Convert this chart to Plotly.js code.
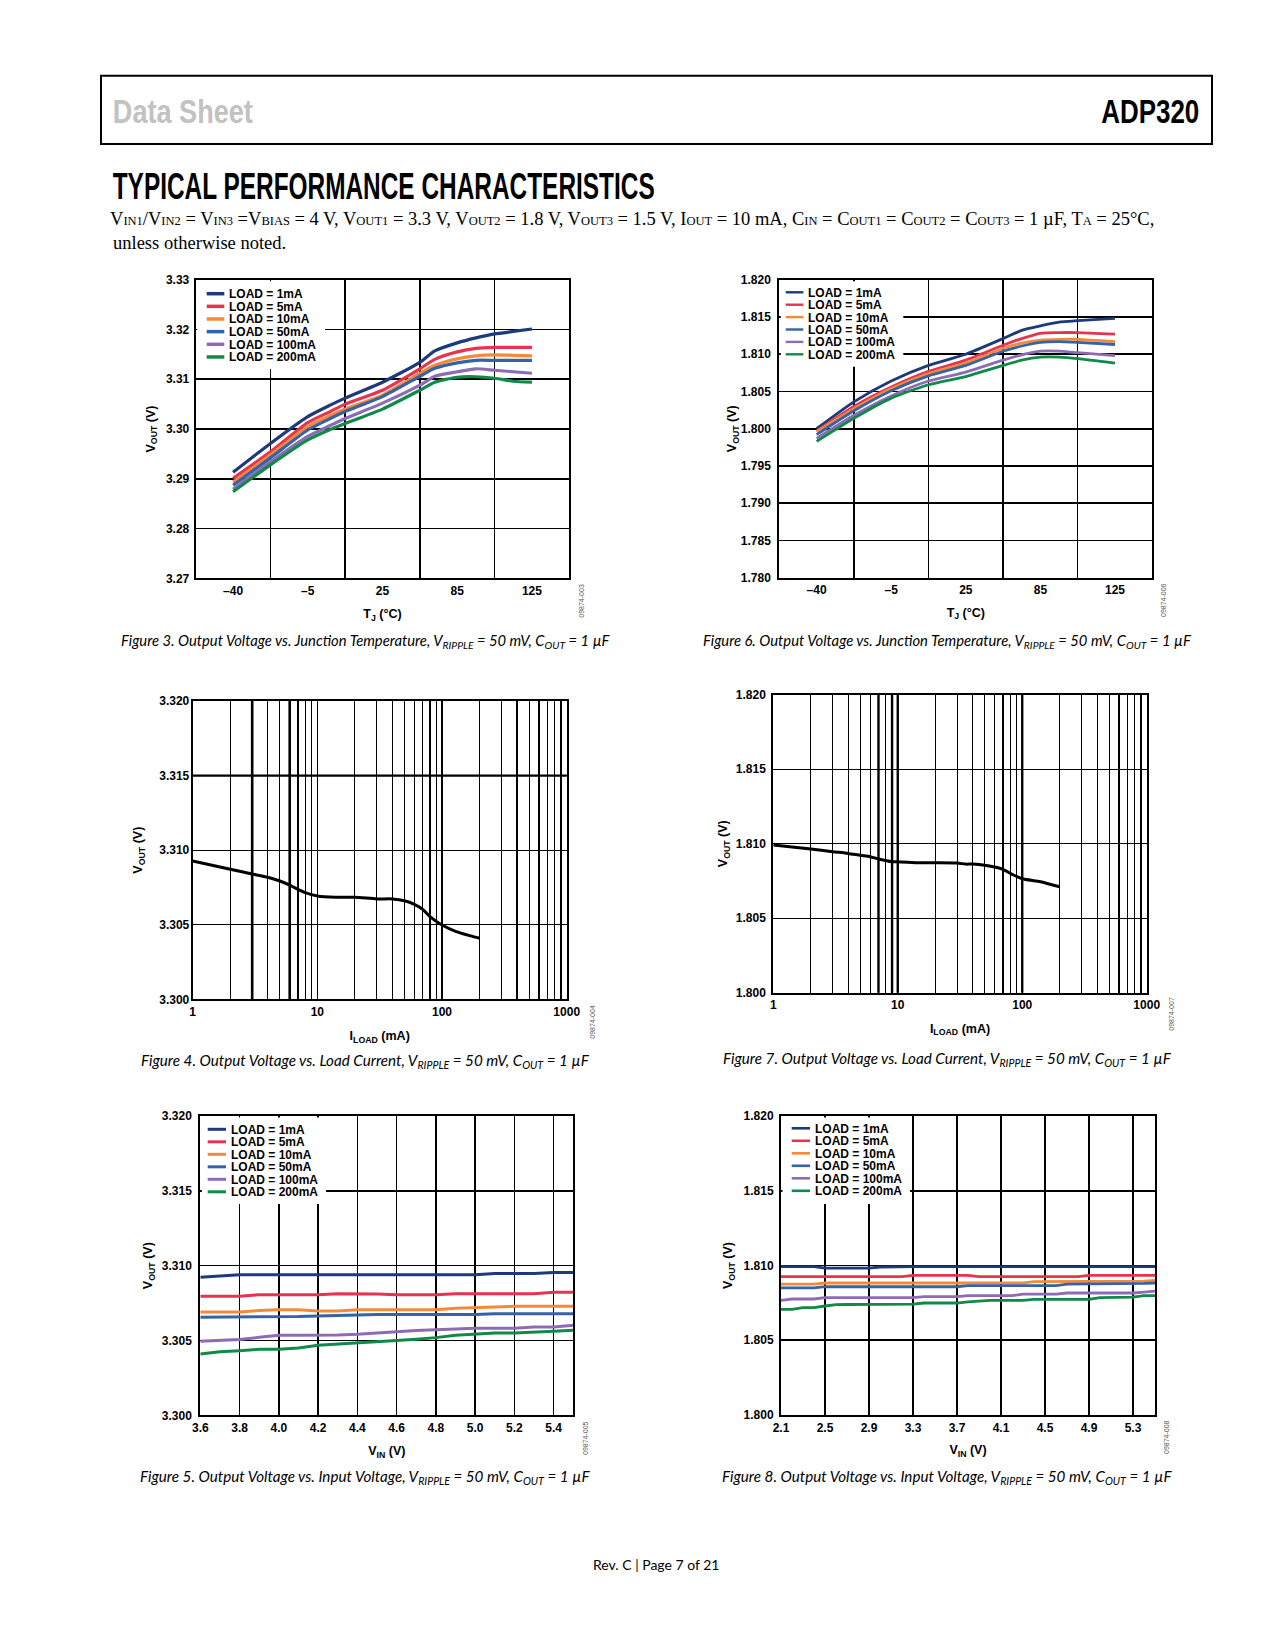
<!DOCTYPE html>
<html><head><meta charset="utf-8">
<script src="https://cdn.plot.ly/plotly-3.0.1.min.js"></script>
<style>html,body{margin:0;padding:0;background:#fff}#page{width:1275px;height:1650px}</style>
</head><body><div id="page"></div>
<script>
// ---------------- DATA ----------------
const loadNames = ['LOAD = 1mA','LOAD = 5mA','LOAD = 10mA','LOAD = 50mA','LOAD = 100mA','LOAD = 200mA'];
const loadColors = ['#1d3a7c','#e6334f','#f5893a','#3562a8','#8e6bb6','#0f8a48'];

const tjTickPos = [0,1,2,3,4];
const tjTickLabels = ['–40','–5','25','85','125'];
const tjGridPos = [0.5,1.5,2.5,3.5];

// Figure 3 (VOUT1 = 3.3 V) vs TJ (positions on the TJ scale)
const fig3TjPos   = [0, 0.5, 1, 1.3, 1.5, 2, 2.5, 2.7, 3, 3.25, 3.5, 3.75, 4];
const fig3V1mA    = [3.2913,3.2971,3.3025,3.3048,3.3062,3.3094,3.3134,3.3157,3.3173,3.3183,3.3191,3.3196,3.3201];
const fig3V5mA    = [3.2901,3.2954,3.3013,3.3035,3.3050,3.3078,3.3121,3.3140,3.3155,3.3162,3.3164,3.3164,3.3164];
const fig3V10mA   = [3.2893,3.2948,3.3005,3.3027,3.3040,3.3068,3.3112,3.3128,3.3141,3.3147,3.3149,3.3148,3.3147];
const fig3V50mA   = [3.2887,3.2942,3.2998,3.3021,3.3035,3.3065,3.3106,3.3122,3.3133,3.3138,3.3138,3.3138,3.3138];
const fig3V100mA  = [3.2879,3.2934,3.2985,3.3007,3.3021,3.3052,3.3088,3.3106,3.3115,3.3121,3.3118,3.3115,3.3112];
const fig3V200mA  = [3.2874,3.2928,3.2978,3.2999,3.3011,3.3040,3.3078,3.3094,3.3104,3.3105,3.3102,3.3096,3.3094];

// Figure 6 (VOUT2 = 1.8 V) vs TJ
const fig6TjPos   = [0, 0.5, 1, 1.5, 2, 2.5, 2.75, 3, 3.25, 3.5, 4];
const fig6V1mA    = [1.8000,1.8036,1.8064,1.8085,1.8100,1.8121,1.8132,1.8138,1.8143,1.8145,1.8148];
const fig6V5mA    = [1.7997,1.8030,1.8056,1.8077,1.8092,1.8112,1.8121,1.8128,1.8129,1.8129,1.8127];
const fig6V10mA   = [1.7996,1.8027,1.8054,1.8074,1.8088,1.8108,1.8115,1.8119,1.8120,1.8120,1.8117];
const fig6V50mA   = [1.7992,1.8024,1.8051,1.8071,1.8085,1.8104,1.8111,1.8116,1.8117,1.8116,1.8113];
const fig6V100mA  = [1.7987,1.8018,1.8044,1.8064,1.8076,1.8092,1.8099,1.8104,1.8104,1.8102,1.8098];
const fig6V200mA  = [1.7983,1.8014,1.8041,1.8059,1.8070,1.8085,1.8092,1.8096,1.8096,1.8094,1.8088];

// Figure 4 (3.3 V) vs ILOAD
const fig4ILoad = [1,2,3,4,5,6,7,8,10,14,20,30,40,50,60,70,80,100,130,170,200];
const fig4Vout  = [3.30927,3.30872,3.30840,3.30818,3.30793,3.30766,3.30737,3.30715,3.30693,3.30684,3.30684,3.30673,3.30673,3.30661,3.30637,3.30603,3.30554,3.30498,3.30454,3.30425,3.30409];

// Figure 7 (1.8 V) vs ILOAD
const fig7ILoad = [1,2,3,4,5,6,7,9,10,15,20,30,35,40,50,70,85,100,140,200];
const fig7Vout  = [1.80991,1.80964,1.80946,1.80935,1.80922,1.80913,1.80897,1.80879,1.80879,1.80872,1.80872,1.80870,1.80863,1.80863,1.80855,1.80828,1.80790,1.80765,1.80745,1.80711];

// Figure 5 (3.3 V) vs VIN
const fig5Vin     = [3.6,3.7,3.8,3.9,4.0,4.1,4.2,4.3,4.4,4.5,4.6,4.7,4.8,4.9,5.0,5.1,5.2,5.3,5.4,5.5];
const fig5V1mA    = [3.30922,3.30931,3.30940,3.30940,3.30940,3.30940,3.30940,3.30940,3.30940,3.30940,3.30940,3.30940,3.30940,3.30940,3.30940,3.30947,3.30947,3.30947,3.30955,3.30955];
const fig5V5mA    = [3.30795,3.30795,3.30795,3.30806,3.30806,3.30806,3.30806,3.30813,3.30813,3.30810,3.30806,3.30806,3.30806,3.30813,3.30813,3.30813,3.30813,3.30813,3.30822,3.30822];
const fig5V10mA   = [3.30690,3.30690,3.30690,3.30700,3.30706,3.30706,3.30697,3.30697,3.30706,3.30706,3.30706,3.30706,3.30706,3.30715,3.30720,3.30728,3.30728,3.30728,3.30728,3.30728];
const fig5V50mA   = [3.30655,3.30655,3.30655,3.30655,3.30655,3.30660,3.30664,3.30668,3.30673,3.30673,3.30673,3.30673,3.30673,3.30673,3.30673,3.30679,3.30679,3.30679,3.30679,3.30679];
const fig5V100mA  = [3.30494,3.30500,3.30506,3.30521,3.30535,3.30535,3.30535,3.30537,3.30541,3.30550,3.30559,3.30566,3.30572,3.30577,3.30581,3.30581,3.30581,3.30590,3.30590,3.30601];
const fig5V200mA  = [3.30410,3.30425,3.30432,3.30441,3.30441,3.30450,3.30468,3.30475,3.30481,3.30490,3.30499,3.30509,3.30519,3.30535,3.30541,3.30550,3.30550,3.30558,3.30561,3.30568];

// Figure 8 (1.8 V) vs VIN
const fig8Vin     = [2.1,2.2,2.3,2.4,2.5,2.6,2.7,2.8,2.9,3.0,3.1,3.2,3.3,3.4,3.5,3.6,3.7,3.8,3.9,4.0,4.1,4.2,4.3,4.4,4.5,4.6,4.7,4.8,4.9,5.0,5.1,5.2,5.3,5.4,5.5];
const fig8V1mA    = [1.80992,1.80992,1.80992,1.80992,1.80983,1.80983,1.80983,1.80983,1.80983,1.80990,1.80992,1.80992,1.80992,1.80992,1.80992,1.80992,1.80992,1.80992,1.80992,1.80992,1.80992,1.80992,1.80992,1.80992,1.80992,1.80992,1.80992,1.80992,1.80992,1.80992,1.80992,1.80992,1.80992,1.80992,1.80992];
const fig8V5mA    = [1.80925,1.80925,1.80925,1.80925,1.80925,1.80925,1.80925,1.80925,1.80925,1.80925,1.80925,1.80925,1.80934,1.80934,1.80934,1.80934,1.80934,1.80934,1.80925,1.80925,1.80925,1.80925,1.80925,1.80925,1.80925,1.80925,1.80925,1.80925,1.80934,1.80934,1.80934,1.80934,1.80934,1.80934,1.80934];
const fig8V10mA   = [1.80876,1.80876,1.80876,1.80876,1.80883,1.80883,1.80883,1.80883,1.80883,1.80883,1.80883,1.80883,1.80883,1.80883,1.80883,1.80883,1.80883,1.80883,1.80883,1.80883,1.80883,1.80883,1.80883,1.80892,1.80892,1.80892,1.80892,1.80892,1.80892,1.80892,1.80892,1.80892,1.80892,1.80896,1.80901];
const fig8V50mA   = [1.80850,1.80850,1.80850,1.80850,1.80858,1.80858,1.80858,1.80858,1.80858,1.80858,1.80858,1.80858,1.80858,1.80858,1.80858,1.80858,1.80858,1.80865,1.80865,1.80865,1.80865,1.80865,1.80865,1.80865,1.80865,1.80865,1.80876,1.80876,1.80876,1.80876,1.80876,1.80876,1.80876,1.80880,1.80883];
const fig8V100mA  = [1.80767,1.80776,1.80776,1.80776,1.80785,1.80785,1.80785,1.80785,1.80785,1.80785,1.80785,1.80785,1.80785,1.80792,1.80792,1.80792,1.80792,1.80798,1.80798,1.80798,1.80798,1.80798,1.80809,1.80809,1.80809,1.80809,1.80816,1.80816,1.80816,1.80816,1.80816,1.80816,1.80816,1.80822,1.80829];
const fig8V200mA  = [1.80707,1.80707,1.80718,1.80718,1.80729,1.80738,1.80739,1.80740,1.80740,1.80741,1.80742,1.80742,1.80742,1.80749,1.80749,1.80749,1.80749,1.80756,1.80763,1.80767,1.80767,1.80767,1.80767,1.80774,1.80774,1.80774,1.80774,1.80774,1.80774,1.80785,1.80787,1.80788,1.80789,1.80798,1.80798];

const logTickVals = [1,10,100,1000];
const logTickText = ['1','10','100','1000'];
const logMinorVals = [2,3,4,5,6,7,8,9,20,30,40,50,60,70,80,90,200,300,400,500,600,700,800,900];

// ---------------- LAYOUT HELPERS ----------------
const W = 1275, H = 1650;
const px = x => x / W;
const py = y => 1 - y / H;
const dX = (a, b) => [a / W, b / W];
const dY = (top, bottom) => [1 - bottom / H, 1 - top / H];

const boldFont = {family: 'Liberation Sans, Arial, sans-serif', size: 12, color: '#000', weight: 'bold'};

function frame(extra) {
  return Object.assign({
    showline: true, mirror: true, linecolor: '#000', linewidth: 2,
    showgrid: true, gridcolor: '#000', gridwidth: 1.6,
    zeroline: false, ticks: '', tickfont: boldFont, fixedrange: true
  }, extra);
}
function atitle(t, standoff) { return {text: t, font: Object.assign({}, boldFont, {size: 12.5}), standoff: standoff}; }

const voutTitle = 'V<sub>OUT</sub> (V)';

const traces = [];
function addSet(xs, ys, xa, ya, width, shape) {
  ys.forEach((y, i) => traces.push({
    x: xs, y: y, xaxis: xa, yaxis: ya, type: 'scatter', mode: 'lines',
    name: loadNames[i], showlegend: false, hoverinfo: 'skip',
    line: {color: loadColors[i], width: width, shape: shape, smoothing: 0.6}
  }));
}
addSet(fig3TjPos, [fig3V1mA, fig3V5mA, fig3V10mA, fig3V50mA, fig3V100mA, fig3V200mA], 'x', 'y', 3.2, 'spline');
addSet(fig6TjPos, [fig6V1mA, fig6V5mA, fig6V10mA, fig6V50mA, fig6V100mA, fig6V200mA], 'x2', 'y2', 2.8, 'spline');
traces.push({x: fig4ILoad, y: fig4Vout, xaxis: 'x3', yaxis: 'y3', mode: 'lines', showlegend: false, hoverinfo: 'skip',
  line: {color: '#000', width: 3, shape: 'spline', smoothing: 0.6}});
traces.push({x: fig7ILoad, y: fig7Vout, xaxis: 'x4', yaxis: 'y4', mode: 'lines', showlegend: false, hoverinfo: 'skip',
  line: {color: '#000', width: 3, shape: 'spline', smoothing: 0.6}});
addSet(fig5Vin, [fig5V1mA, fig5V5mA, fig5V10mA, fig5V50mA, fig5V100mA, fig5V200mA], 'x5', 'y5', 3, 'linear');
addSet(fig8Vin, [fig8V1mA, fig8V5mA, fig8V10mA, fig8V50mA, fig8V100mA, fig8V200mA], 'x6', 'y6', 2.8, 'linear');

const tjAxis = (dom, anchor, lblOff, titleOff) => frame({
  domain: dom, anchor: anchor, range: [-0.5, 4.5], tickmode: 'array', tickvals: tjTickPos, ticktext: tjTickLabels,
  showgrid: false, ticklabelstandoff: lblOff,
  minor: {tickmode: 'array', tickvals: tjGridPos, showgrid: true, gridcolor: '#000', gridwidth: 1.6, ticks: ''},
  title: atitle('T<sub>J</sub> (°C)', titleOff)
});
const logAxis = (dom, anchor, lblOff, titleOff) => frame({
  domain: dom, anchor: anchor, type: 'log', range: [0, 3], tickmode: 'array', tickvals: logTickVals, ticktext: logTickText,
  gridwidth: 1.2, ticklabelstandoff: lblOff,
  minor: {tickmode: 'array', tickvals: logMinorVals, showgrid: true, gridcolor: '#000', gridwidth: 1.2, ticks: ''},
  title: atitle('I<sub>LOAD</sub> (mA)', titleOff)
});

const layout = {
  width: W, height: H, margin: {l: 0, r: 0, t: 0, b: 0},
  paper_bgcolor: '#fff', plot_bgcolor: '#fff', showlegend: false,
  font: {family: 'Liberation Sans, Arial, sans-serif', color: '#000'},
  xaxis: tjAxis(dX(195.7, 569.3), 'y', 0, 13),
  yaxis: frame({domain: dY(279.7, 578.3), anchor: 'x', range: [3.27, 3.33], dtick: 0.01, tick0: 3.27, tickformat: '.2f', ticklabelstandoff: 2, title: atitle(voutTitle, 8)}),
  xaxis2: tjAxis(dX(779.3, 1152.3), 'y2', 0, 12),
  yaxis2: frame({domain: dY(279.7, 577.7), anchor: 'x2', range: [1.78, 1.82], dtick: 0.005, tick0: 1.78, tickformat: '.3f', ticklabelstandoff: 4, title: atitle(voutTitle, 1)}),
  xaxis3: logAxis(dX(192.7, 566.7), 'y3', 0, 14),
  yaxis3: frame({domain: dY(701, 999.3), anchor: 'x3', range: [3.3, 3.32], dtick: 0.005, tick0: 3.3, tickformat: '.3f', ticklabelstandoff: -1, gridwidth: 1.3, title: atitle(voutTitle, 14)}),
  xaxis4: logAxis(dX(773.3, 1146.7), 'y4', 0, 13),
  yaxis4: frame({domain: dY(694.7, 992.7), anchor: 'x4', range: [1.8, 1.82], dtick: 0.005, tick0: 1.8, tickformat: '.3f', ticklabelstandoff: 3, gridwidth: 1.3, title: atitle(voutTitle, 5)}),
  xaxis5: frame({domain: dX(200.3, 573.3), anchor: 'y5', range: [3.6, 5.5], tick0: 3.6, dtick: 0.2, tickformat: '.1f', ticklabelstandoff: 0, title: atitle('V<sub>IN</sub> (V)', 13)}),
  yaxis5: frame({domain: dY(1116, 1415.3), anchor: 'x5', range: [3.3, 3.32], dtick: 0.005, tick0: 3.3, tickformat: '.3f', ticklabelstandoff: 4, title: atitle(voutTitle, 6)}),
  xaxis6: frame({domain: dX(781, 1155), anchor: 'y6', range: [2.1, 5.5], tick0: 2.1, dtick: 0.4, tickformat: '.1f', ticklabelstandoff: 1, title: atitle('V<sub>IN</sub> (V)', 11)}),
  yaxis6: frame({domain: dY(1116, 1415), anchor: 'x6', range: [1.8, 1.82], dtick: 0.005, tick0: 1.8, tickformat: '.3f', ticklabelstandoff: 3, title: atitle(voutTitle, 8)}),
  shapes: [], annotations: []
};

// heavier grid strokes as seen in the log-scale plots
const heavyV = (xa, ya, v, w) => layout.shapes.push({type: 'line', xref: xa + ' domain', yref: ya + ' domain',
  x0: Math.log10(v) / 3, x1: Math.log10(v) / 3, y0: 0, y1: 1, line: {color: '#000', width: w}});
[3, 6].forEach(v => heavyV('x3', 'y3', v, 2.6));
layout.shapes.push({type: 'line', xref: 'x3 domain', yref: 'y3 domain', x0: 0, x1: 1, y0: 0.75, y1: 0.75, line: {color: '#000', width: 2.4}});
[7, 9, 10, 100].forEach(v => heavyV('x4', 'y4', v, 2.4));

// header box
layout.shapes.push({type: 'rect', xref: 'paper', yref: 'paper', x0: px(101), x1: px(1212), y0: py(75.7), y1: py(144), line: {color: '#000', width: 2}});

function ann(x, y, text, font, extra) {
  layout.annotations.push(Object.assign({xref: 'paper', yref: 'paper', x: px(x), y: py(y), text: text, showarrow: false,
    font: font, xanchor: 'left', yanchor: 'middle', borderpad: 0, borderwidth: 0}, extra || {}));
}
const headFont = 'Liberation Sans, Arial, sans-serif';
// condensed texts: plain text -> target width in px
const squeezed = {};
function headText(text, cx, cy, width, size, color) {
  squeezed[text] = width;
  ann(cx, cy, text, {family: headFont, size: size, color: color, weight: 'bold'}, {xanchor: 'center'});
}
headText('Data Sheet', 182.5, 111, 140, 34, '#c2c2c2');
headText('ADP320', 1150, 111, 98, 34, '#000');
headText('TYPICAL PERFORMANCE CHARACTERISTICS', 383.8, 186, 542, 36, '#000');

const serif = {family: 'Liberation Serif, Times New Roman, serif', size: 18.5, color: '#000'};
const s = t => '<span style="font-size:12.5px">' + t + '</span>';
const condLine = 'V' + s('IN1') + '/V' + s('IN2') + ' = V' + s('IN3') + ' =V' + s('BIAS') + ' = 4 V, V' + s('OUT1') + ' = 3.3 V, V' + s('OUT2') +
  ' = 1.8 V, V' + s('OUT3') + ' = 1.5 V, I' + s('OUT') + ' = 10 mA, C' + s('IN') + ' = C' + s('OUT1') + ' = C' + s('OUT2') + ' = C' + s('OUT3') +
  ' = 1 µF, T' + s('A') + ' = 25°C,';
ann(632.3, 219, condLine, serif, {xanchor: 'center'});
ann(112.6, 243, 'unless otherwise noted.', serif);

// captions
const capFont = {family: 'Lato, Open Sans, sans-serif', size: 15.2, color: '#000', style: 'italic'};
const capFontTight = Object.assign({}, capFont, {size: 14.8});
const capTail = ', V<sub>RIPPLE</sub> = 50 mV, C<sub>OUT</sub> = 1 µF';
ann(366, 641, 'Figure 3. Output Voltage vs. Junction Temperature' + capTail, capFontTight, {xanchor: 'center'});
ann(947, 641, 'Figure 6. Output Voltage vs. Junction Temperature' + capTail, capFontTight, {xanchor: 'center'});
ann(365, 1061, 'Figure 4. Output Voltage vs. Load Current' + capTail, capFont, {xanchor: 'center'});
ann(947, 1059, 'Figure 7. Output Voltage vs. Load Current' + capTail, capFont, {xanchor: 'center'});
ann(365, 1477, 'Figure 5. Output Voltage vs. Input Voltage' + capTail, capFont, {xanchor: 'center'});
ann(947, 1477, 'Figure 8. Output Voltage vs. Input Voltage' + capTail, capFont, {xanchor: 'center'});
ann(656, 1564, 'Rev. C | Page 7 of 21', {family: 'Lato, Open Sans, sans-serif', size: 14, color: '#000'}, {xanchor: 'center'});

// figure id codes (rotated)
const codeFont = {family: 'Liberation Sans, Arial, sans-serif', size: 7, color: '#555'};
[[580.7, 601, '09874-003'], [1163, 600, '09874-006'], [591.7, 1022, '09874-004'], [1171.7, 1014, '09874-007'], [585, 1438, '09874-005'], [1166, 1437, '09874-008']]
  .forEach(c => ann(c[0], c[1], c[2], codeFont, {xanchor: 'center', textangle: -90}));

// legends (white box, sample lines, labels)
function legend(box, rowY0, rowStep, sx0, sx1, tx, lw) {
  layout.shapes.push({type: 'rect', xref: 'paper', yref: 'paper', layer: 'above', x0: px(box[0] + 1.5), x1: px(box[1]), y0: py(box[2] + 1.5), y1: py(box[3]),
    fillcolor: '#fff', line: {width: 0}});
  loadNames.forEach((n, i) => {
    const y = rowY0 + i * rowStep;
    layout.shapes.push({type: 'line', xref: 'paper', yref: 'paper', layer: 'above', x0: px(sx0), x1: px(sx1), y0: py(y), y1: py(y),
      line: {color: loadColors[i], width: lw}});
    ann(tx, y + 0.5, n, boldFont);
  });
}
legend([195.7, 325, 279.7, 369], 293.7, 12.65, 206.7, 224.3, 229.3, 3.5);
legend([779.3, 903.3, 279.7, 366.7], 292.3, 12.4, 785.7, 803.3, 808.3, 2.4);
legend([200.3, 326, 1116, 1204], 1129.3, 12.5, 207.7, 226, 231, 3);
legend([781, 910, 1116, 1204], 1128.3, 12.5, 791.7, 810, 814.7, 2.6);

Plotly.newPlot('page', traces, layout, {staticPlot: true, displayModeBar: false}).then(gd => {
  gd.querySelectorAll('text.annotation-text').forEach(t => {
    const w = squeezed[t.textContent];
    if (w) { t.setAttribute('textLength', w); t.setAttribute('lengthAdjust', 'spacingAndGlyphs'); }
  });
});
</script>
</body></html>
